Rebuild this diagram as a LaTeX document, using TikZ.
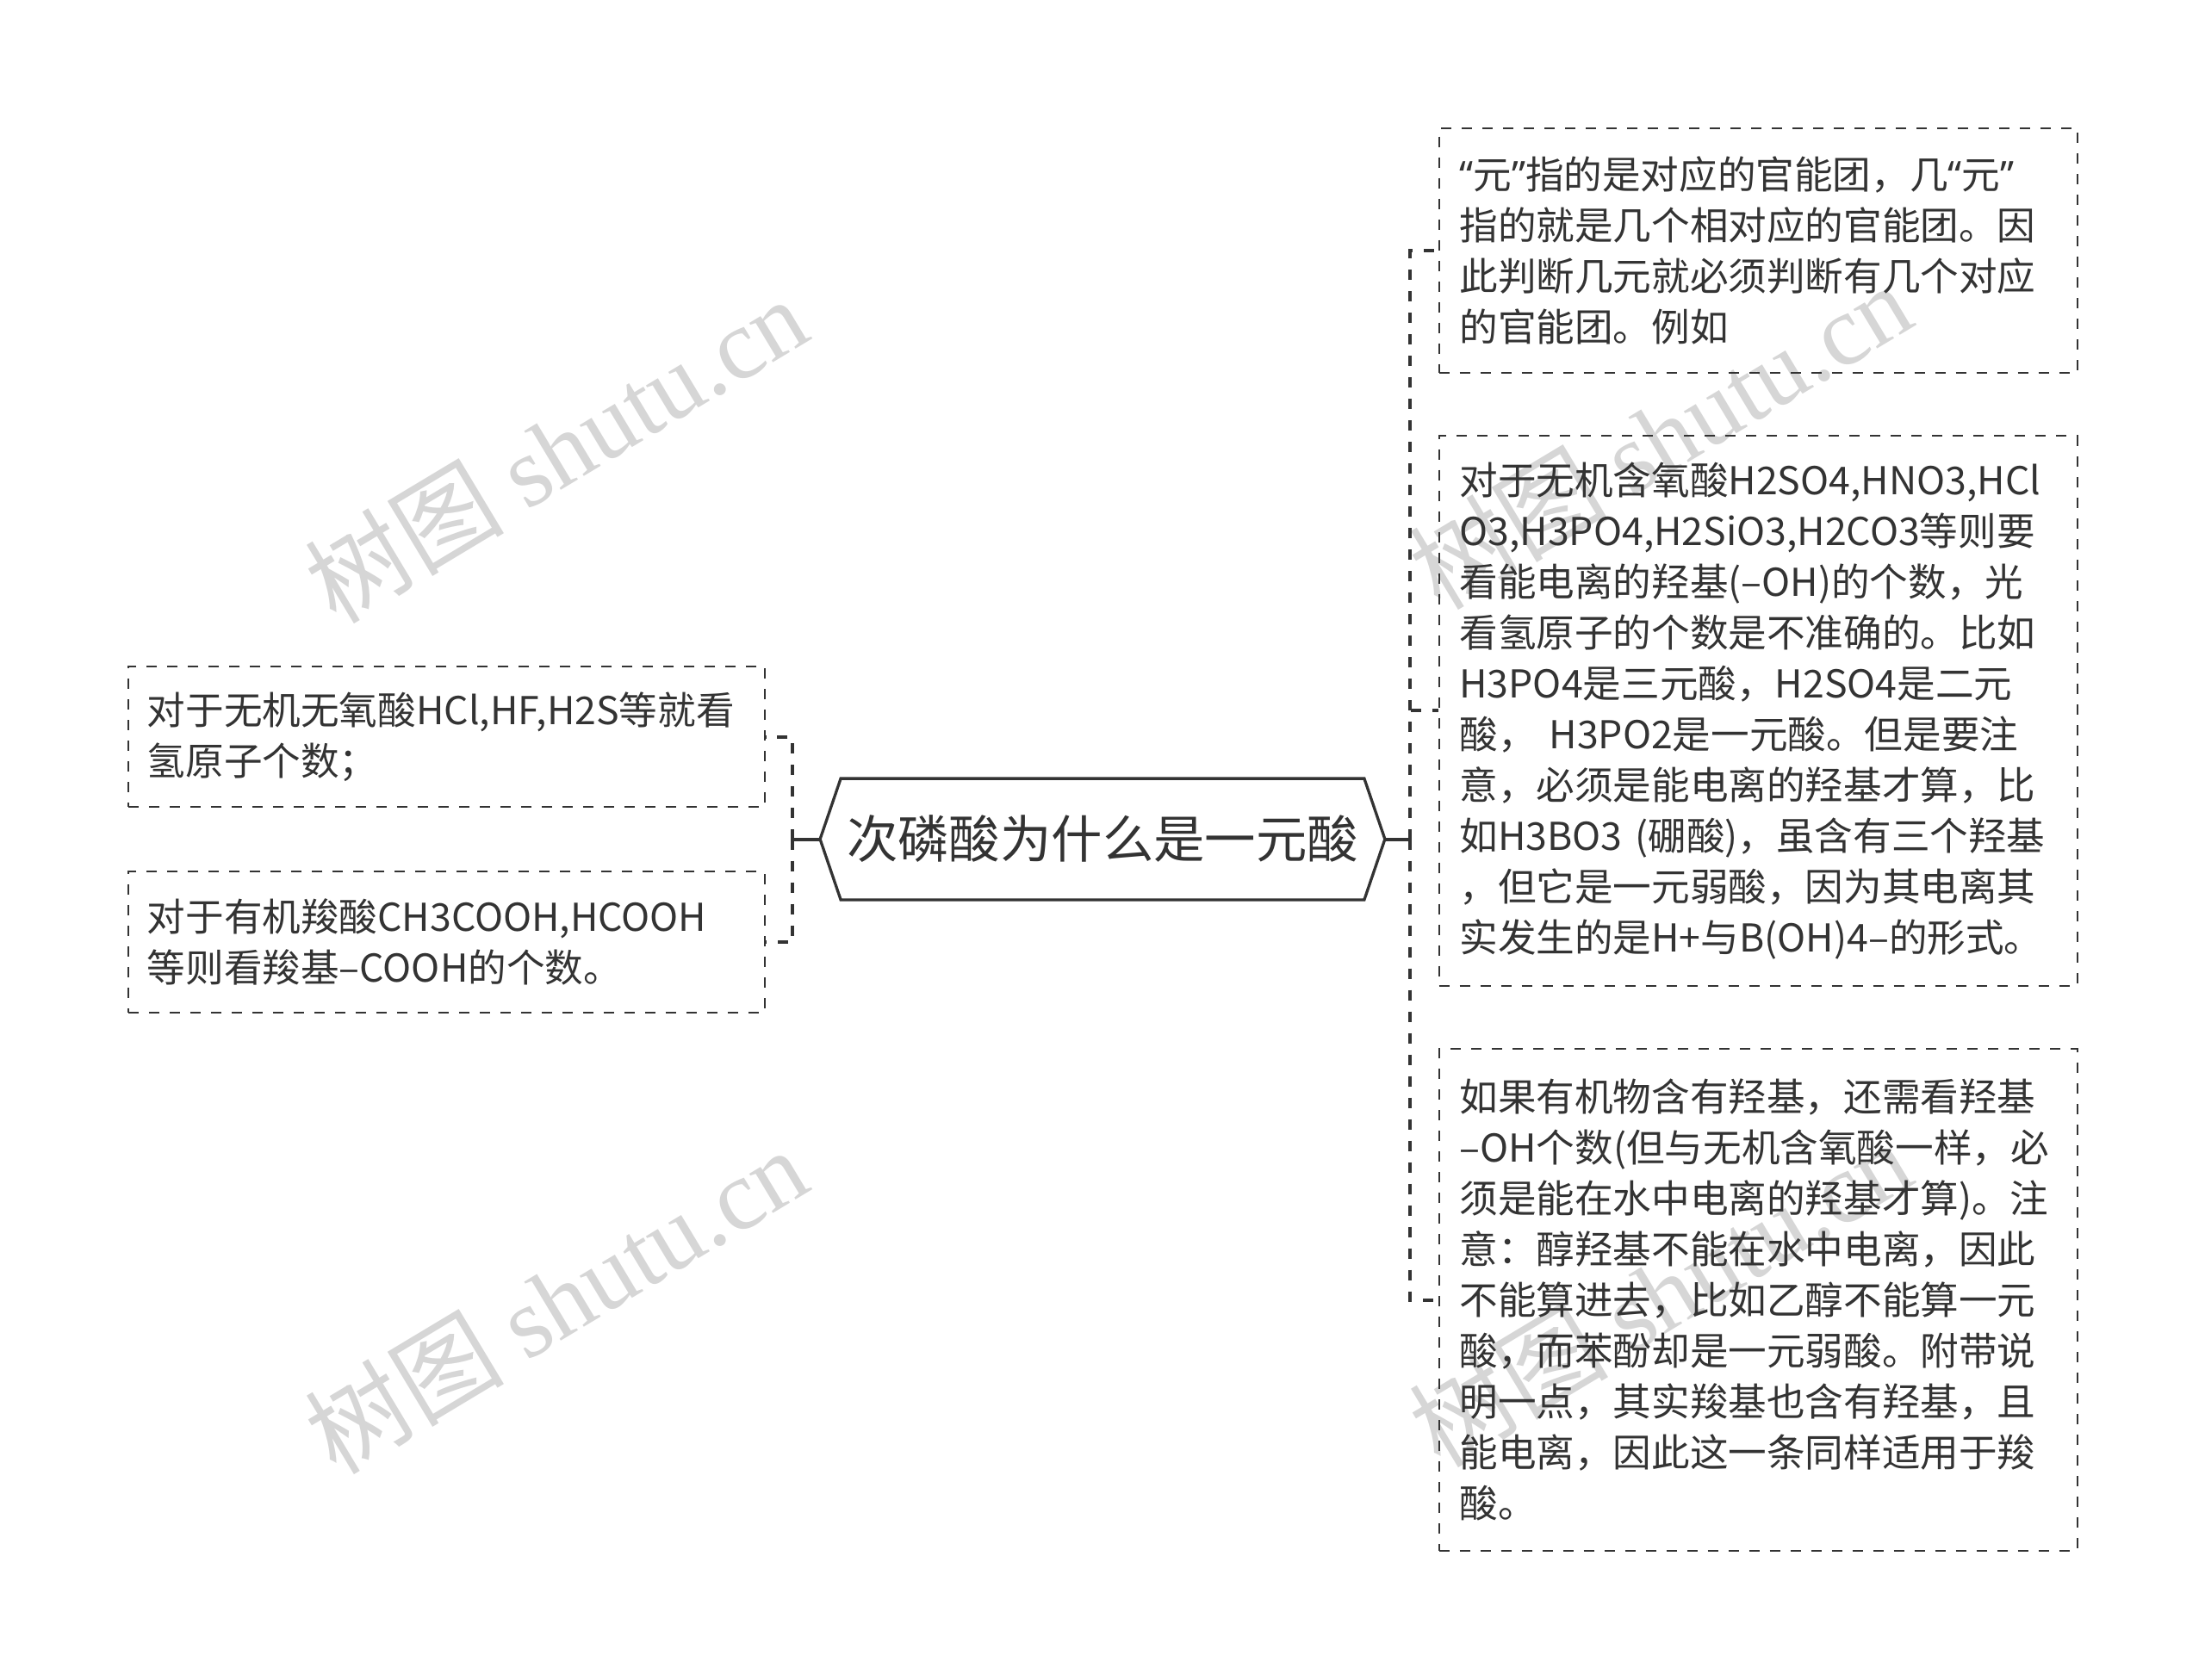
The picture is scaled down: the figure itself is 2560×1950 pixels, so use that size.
\documentclass[tikz,border=0pt]{standalone}
\usepackage{fontspec}
\setmainfont{Noto Sans CJK SC}
\newfontfamily\wmlat{Liberation Serif}
\newfontfamily\qfont{Noto Sans}
\newcommand{\myoq}{{\qfont “}}
\newcommand{\mycq}{{\qfont ”}}
\usetikzlibrary{calc}
\definecolor{ink}{HTML}{333333}
\definecolor{wm}{HTML}{D6D6D6}
\begin{document}
\begin{tikzpicture}[x=0.5pt,y=-0.5pt,
  box/.style={draw=ink, text=ink, line width=1pt, dash pattern=on 6pt off 6pt, rectangle, align=left, inner ysep=0pt, font=\fontsize{22.3}{29.5}\selectfont, anchor=center},
  lbox/.style={box, minimum width=369.5pt, inner xsep=11pt, text width=347.5pt, minimum height=81.7pt},
  rbox/.style={box, minimum width=370.5pt, inner xsep=12pt, text width=346.5pt},
  conn/.style={draw=ink, line width=2pt, dash pattern=on 6pt off 6.5pt},
  link/.style={draw=ink, line width=2pt},
  wmark/.style={text=wm, rotate=31, font=\fontsize{58}{58}\selectfont, inner sep=0pt}
]
\useasboundingbox[fill=white] (0,0) rectangle (2560,1950);

% watermarks
\node[wmark] (wm1) at (645,522) {树图 {\wmlat shutu.cn}};
\node[wmark] (wm2) at (645,1510) {树图 {\wmlat shutu.cn}};
\node[wmark] (wm3) at (1927,506) {树图 {\wmlat shutu.cn}};
\node[wmark] (wm4) at (1927,1502) {树图 {\wmlat shutu.cn}};

% central node
\node[text=ink, minimum width=303.5pt, minimum height=70pt, inner sep=0pt, font=\fontsize{29.7}{32}\selectfont] (hex) at (1280,974.5) {次磷酸为什么是一元酸};
\coordinate (hexL) at ($(hex.west)+(-12pt,0pt)$);
\coordinate (hexR) at ($(hex.east)+(12pt,0pt)$);
\draw[ink, line width=1.65pt, line join=miter] (hex.north west) -- (hexL) -- (hex.south west) -- (hex.south east) -- (hexR) -- (hex.north east) -- cycle;

% left boxes
\node[lbox] (L1) at (518.4,855.5) {对于无机无氧酸HCl,HF,H2S等就看\\氢原子个数；};
\node[lbox] (L2) at (518.4,1094) {对于有机羧酸CH3COOH,HCOOH\\等则看羧基–COOH的个数。};

% right boxes
\node[rbox, minimum height=142pt] (R1) at (2041,290.6) {\myoq 元\mycq 指的是对应的官能团，几\myoq 元\mycq\\指的就是几个相对应的官能团。因\\此判断几元就必须判断有几个对应\\的官能团。例如};
\node[rbox, minimum height=319.2pt] (R2) at (2041,825.3) {对于无机含氧酸H2SO4,HNO3,HCl\\O3,H3PO4,H2SiO3,H2CO3等则要\\看能电离的羟基(–OH)的个数，光\\看氢原子的个数是不准确的。比如\\H3PO4是三元酸，H2SO4是二元\\酸， H3PO2是一元酸。但是要注\\意，必须是能电离的羟基才算，比\\如H3BO3 (硼酸)，虽含有三个羟基\\，但它是一元弱酸，因为其电离其\\实发生的是H+与B(OH)4–的形式。};
\node[rbox, minimum height=291.5pt] (R3) at (2041,1509.5) {如果有机物含有羟基，还需看羟基\\–OH个数(但与无机含氧酸一样，必\\须是能在水中电离的羟基才算)。注\\意：醇羟基不能在水中电离，因此\\不能算进去，比如乙醇不能算一元\\酸，而苯酚却是一元弱酸。附带说\\明一点，其实羧基也含有羟基，且\\能电离，因此这一条同样适用于羧\\酸。};

% connectors
\coordinate (lj) at (920,974.5);
\coordinate (rj) at (1637,974.5);
\draw[link] (hexL) -- (lj);
\draw[link] (hexR) -- (rj);
\draw[conn] (lj) |- (L1.east);
\draw[conn] (lj) |- (L2.east);
\draw[conn] (rj) |- (R1.west);
\draw[conn] (rj) |- (R2.west);
\draw[conn] (rj) |- (R3.west);
\end{tikzpicture}
\end{document}
